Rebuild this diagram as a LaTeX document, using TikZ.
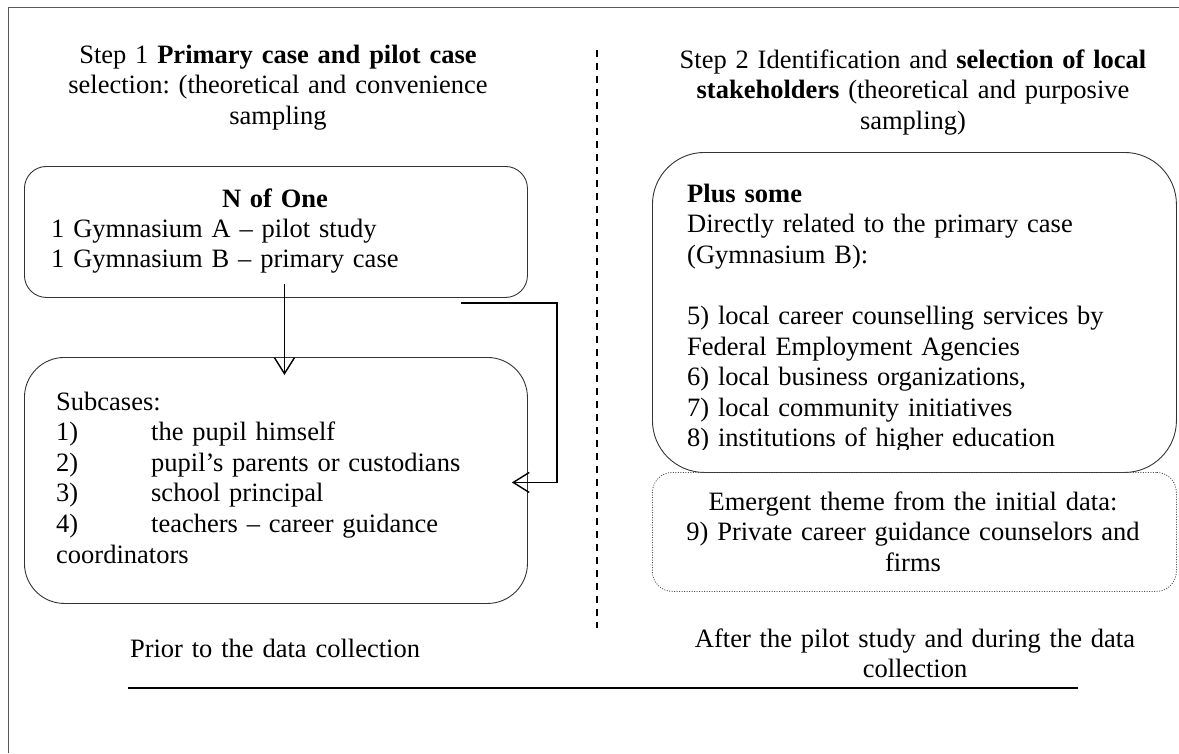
\documentclass[tikz,border=0pt]{standalone}
\usepackage{fontspec}
\setmainfont{Liberation Serif}
\usetikzlibrary{arrows.meta,calc}
\begin{document}
\begin{tikzpicture}[x=1pt,y=-1pt,
  txt/.style={inner sep=0pt, font=\fontsize{26.5}{30.6}\selectfont\frenchspacing},
  ctr/.style={txt, text width=#1, align=center, anchor=base},
  lft/.style={txt, text width=#1, align=left, anchor=base west},
  box/.style={draw=black!80, line width=0.9pt, inner sep=0pt, anchor=north west},
  dottedbox/.style={box, draw=black!70, line width=0.8pt, dash pattern=on 1pt off 1.5pt},
  arr/.style={draw=black, line width=1.4pt, -{Straight Barb[length=16pt,width=20pt]}},
]
\useasboundingbox (0,0) rectangle (1179,753);
% outer frame (left and top edges)
\draw[black!65, line width=1pt] (8,753) -- (8,7) -- (1179,7);

% boxes
\node[box, rounded corners=22pt, minimum width=503pt, minimum height=131pt] (nofone) at (24,166) {};
\node[box, rounded corners=40pt, minimum width=503pt, minimum height=246pt] (subcases) at (24,357) {};
\node[box, rounded corners=52pt, minimum width=524pt, minimum height=320pt] (plus) at (652,152) {};
\node[dottedbox, rounded corners=20pt, minimum width=524pt, minimum height=119pt] (emergent) at (652,472) {};

% headings of the two steps
\node[ctr=560pt] (step1) at (278,63) {Step 1 \textbf{Primary case and pilot case}\\ selection: (theoretical and convenience\\ sampling};
\node[ctr=560pt] (step2) at (913,68) {Step 2 Identification and \textbf{selection of local}\\ \textbf{stakeholders} (theoretical and purposive\\ sampling)};

% step 1 contents
\node[ctr=300pt] (nofonehead) at (275,207) {\textbf{N of One}};
\node[lft=470pt] (nofonetxt) at (51,237) {1 Gymnasium A – pilot study\\ 1 Gymnasium B – primary case};
\node[lft=470pt] (subtxt) at (56,410) {Subcases:\\
  \makebox[95pt][l]{1)}the pupil himself\\
  \makebox[95pt][l]{2)}pupil’s parents or custodians\\
  \makebox[95pt][l]{3)}school principal\\
  \makebox[95pt][l]{4)}teachers – career guidance\\
  coordinators};

% step 2 contents (text frame cut at its lower edge)
\begin{scope}
  \clip (640,140) rectangle (1179,449);
  \node[lft=480pt] (plustxt) at (687,202) {\textbf{Plus some}\\
    Directly related to the primary case\\
    (Gymnasium B):\\
    \mbox{}\\
    5) local career counselling services by\\
    Federal Employment Agencies\\
    6) local business organizations,\\
    7) local community initiatives\\
    8) institutions of higher education};
\end{scope}
\node[ctr=520pt] (emtxt) at (913,510) {Emergent theme from the initial data:\\ 9) Private career guidance counselors and\\ firms};

% timing labels
\node[ctr=300pt] (prior) at (275,657) {Prior to the data collection};
\node[ctr=520pt] (after) at (915,647) {After the pilot study and during the data\\ collection};

% separators
\draw[line width=1.5pt, dash pattern=on 7pt off 6pt] (597,50) -- (597,628);
\draw[line width=2pt] (128,688) -- (1078,688);

% connectors
\draw[arr] ($(nofone.south)+(8.5,-14)$) -- ($(subcases.north)+(8.5,18)$);
\draw[arr] ($(nofone.south east)+(-67,5)$) -| ($(subcases.east)+(29,2)$) -- ($(subcases.east)+(-16,2)$);
\end{tikzpicture}
\end{document}
